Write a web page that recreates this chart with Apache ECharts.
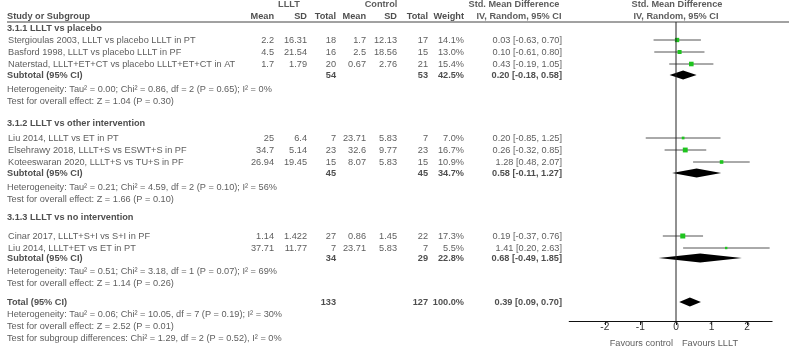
<!DOCTYPE html>
<html>
<head>
<meta charset="utf-8">
<script src="https://cdn.jsdelivr.net/npm/echarts@6/dist/echarts.min.js"></script>
<style>
  html, body { margin: 0; padding: 0; background: #fff; }
  #chart { width: 789px; height: 352px; }
</style>
</head>
<body>
<div id="chart"></div>
<script>
// ---- data ----
const studies = [
  'Stergioulas 2003, LLLT vs placebo LLLT in PT',
  'Basford 1998, LLLT vs placebo LLLT in PF',
  'Naterstad, LLLT+ET+CT vs placebo LLLT+ET+CT in AT',
  'Liu 2014, LLLT vs ET in PT',
  'Elsehrawy 2018, LLLT+S vs ESWT+S in PF',
  'Koteeswaran 2020, LLLT+S vs TU+S in PF',
  'Cinar 2017, LLLT+S+I vs S+I in PF',
  'Liu 2014, LLLT+ET vs ET in PT'
]
const meanE = ['2.2', '4.5', '1.7', '25', '34.7', '26.94', '1.14', '37.71']
const sdE = ['16.31', '21.54', '1.79', '6.4', '5.14', '19.45', '1.422', '11.77']
const nE = [18, 16, 20, 7, 23, 15, 27, 7]
const meanC = ['1.7', '2.5', '0.67', '23.71', '32.6', '8.07', '0.86', '23.71']
const sdC = ['12.13', '18.56', '2.76', '5.83', '9.77', '5.83', '1.45', '5.83']
const nC = [17, 15, 21, 7, 23, 15, 22, 7]
const weight = [14.1, 13.0, 15.4, 7.0, 16.7, 10.9, 17.3, 5.5]
const smd = [0.03, 0.10, 0.43, 0.20, 0.26, 1.28, 0.19, 1.41]
const ciLo = [-0.63, -0.61, -0.19, -0.85, -0.32, 0.48, -0.37, 0.20]
const ciHi = [0.70, 0.80, 1.05, 1.25, 0.85, 2.07, 0.76, 2.63]

const groups = ['3.1.1 LLLT vs placebo', '3.1.2 LLLT vs other intervention', '3.1.3 LLLT vs no intervention']
const subNE = [54, 45, 34]
const subNC = [53, 45, 29]
const subWeight = [42.5, 34.7, 22.8]
const subSmd = [0.20, 0.58, 0.68]
const subLo = [-0.18, -0.11, -0.49]
const subHi = [0.58, 1.27, 1.85]
const subHet = [
  'Heterogeneity: Tau² = 0.00; Chi² = 0.86, df = 2 (P = 0.65); I² = 0%',
  'Heterogeneity: Tau² = 0.21; Chi² = 4.59, df = 2 (P = 0.10); I² = 56%',
  'Heterogeneity: Tau² = 0.51; Chi² = 3.18, df = 1 (P = 0.07); I² = 69%'
]
const subTest = [
  'Test for overall effect: Z = 1.04 (P = 0.30)',
  'Test for overall effect: Z = 1.66 (P = 0.10)',
  'Test for overall effect: Z = 1.14 (P = 0.26)'
]
const totNE = 133
const totNC = 127
const totWeight = 100.0
const totSmd = 0.39
const totLo = 0.09
const totHi = 0.70
const totNotes = [
  'Heterogeneity: Tau² = 0.06; Chi² = 10.05, df = 7 (P = 0.19); I² = 30%',
  'Test for overall effect: Z = 2.52 (P = 0.01)',
  'Test for subgroup differences: Chi² = 1.29, df = 2 (P = 0.52), I² = 0%'
]
const tickValues = [-2, -1, 0, 1, 2]

// ---- layout (pixel rows / columns) ----
const studyY = [40, 52, 64, 138, 150, 162, 236, 248]
const groupY = [28, 123, 217]
const subY = [75, 173, 258]
const hetY = [89, 187, 271]
const testY = [101, 199, 283]
const totY = 302
const totNoteY = [314, 326, 338]
const colX = { mE: 274, sE: 307, nE: 336, mC: 366, sC: 397, nC: 428, w: 464, ci: 562 }
const zeroTop = 22
const axisY = 321

const txt = '#333'

// the reference text is narrow (Arial Narrow like); use the narrow face if it is there
let ctx = document.createElement('canvas').getContext('2d')
ctx.font = '11px "Liberation Sans Narrow", monospace'
let wNarrow = ctx.measureText('Heterogeneity LLLT').width
ctx.font = '11px monospace'
let wMono = ctx.measureText('Heterogeneity LLLT').width
let hasNarrow = Math.abs(wNarrow - wMono) > 0.5
const font = hasNarrow ? '"Liberation Sans Narrow", Arial, sans-serif' : '"Liberation Sans", Arial, sans-serif'
const fsize = hasNarrow ? 11 : 9.2

let fmtCI = (m, l, h) => m.toFixed(2) + ' [' + l.toFixed(2) + ', ' + h.toFixed(2) + ']'

// text helper: items = [[x, y, text]]
function textSeries(items, align, bold, color) {
  let pos = align == 'left' ? 'right' : (align == 'right' ? 'left' : 'inside')
  return {
    type: 'scatter', xAxisIndex: 0, yAxisIndex: 0,
    symbolSize: 0, silent: true, animation: false,
    data: items,
    label: {
      show: true, position: pos, distance: 0, align: align, verticalAlign: 'middle',
      fontFamily: font, fontSize: fsize, fontWeight: bold ? 'bold' : 'normal',
      color: color || txt,
      formatter: p => p.data[2]
    }
  }
}

let leftPlain = [], leftBold = [], rightPlain = [], rightBold = [], centerBold = []

// headers
centerBold.push([289, 4, 'LLLT'], [381, 4, 'Control'], [514, 4, 'Std. Mean Difference'], [519, 16, 'IV, Random, 95% CI'],
  [677, 4, 'Std. Mean Difference'], [676, 16, 'IV, Random, 95% CI'])
leftBold.push([7, 16, 'Study or Subgroup'])
rightBold.push([colX.mE, 16, 'Mean'], [colX.sE, 16, 'SD'], [colX.nE, 16, 'Total'],
  [colX.mC, 16, 'Mean'], [colX.sC, 16, 'SD'], [colX.nC, 16, 'Total'], [colX.w, 16, 'Weight'])

studies.forEach((s, i) => {
  let y = studyY[i]
  leftPlain.push([8, y, s])
  rightPlain.push([colX.mE, y, meanE[i]], [colX.sE, y, sdE[i]], [colX.nE, y, String(nE[i])],
    [colX.mC, y, meanC[i]], [colX.sC, y, sdC[i]], [colX.nC, y, String(nC[i])],
    [colX.w, y, weight[i].toFixed(1) + '%'], [colX.ci, y, fmtCI(smd[i], ciLo[i], ciHi[i])])
})
groups.forEach((g, i) => {
  leftBold.push([7, groupY[i], g], [7, subY[i], 'Subtotal (95% CI)'])
  leftPlain.push([7, hetY[i], subHet[i]], [7, testY[i], subTest[i]])
  rightBold.push([colX.nE, subY[i], String(subNE[i])], [colX.nC, subY[i], String(subNC[i])],
    [colX.w, subY[i], subWeight[i].toFixed(1) + '%'], [colX.ci, subY[i], fmtCI(subSmd[i], subLo[i], subHi[i])])
})
leftBold.push([7, totY, 'Total (95% CI)'])
rightBold.push([colX.nE, totY, String(totNE)], [colX.nC, totY, String(totNC)],
  [colX.w, totY, totWeight.toFixed(1) + '%'], [colX.ci, totY, fmtCI(totSmd, totLo, totHi)])
totNotes.forEach((t, i) => leftPlain.push([7, totNoteY[i], t]))

// forest data
let studyMarks = smd.map((m, i) => [m, ciLo[i], ciHi[i], studyY[i], weight[i]])
let diamonds = subSmd.map((m, i) => [m, subLo[i], subHi[i], subY[i]])
diamonds.push([totSmd, totLo, totHi, totY])

let chart = echarts.init(document.getElementById('chart'))
let option = {
  animation: false,
  grid: [
    { left: 0, top: 0, width: 789, height: 352 },
    { left: 676 - 3 * 35.6, top: 0, width: 5.7 * 35.6, height: axisY }
  ],
  xAxis: [
    { gridIndex: 0, type: 'value', min: 0, max: 789, show: false },
    {
      gridIndex: 1, type: 'value', min: -3, max: 2.7, position: 'bottom',
      splitLine: { show: false },
      axisLine: { show: true, onZero: false, lineStyle: { color: '#111', width: 1 } },
      axisTick: { show: true, length: 4, customValues: tickValues, lineStyle: { color: '#111' } },
      axisLabel: { customValues: tickValues, fontFamily: font, fontSize: fsize + 1, color: txt, margin: 1 }
    }
  ],
  yAxis: [
    { gridIndex: 0, type: 'value', min: 0, max: 352, inverse: true, show: false },
    { gridIndex: 1, type: 'value', min: 0, max: axisY, inverse: true, show: false }
  ],
  series: [
    // header rule
    {
      type: 'line', xAxisIndex: 0, yAxisIndex: 0, symbol: 'none', silent: true,
      data: [[7, zeroTop], [789, zeroTop]], lineStyle: { color: '#444', width: 1 }
    },
    // line of no effect
    {
      type: 'line', xAxisIndex: 1, yAxisIndex: 1, symbol: 'none', silent: true,
      data: [[0, zeroTop], [0, axisY]], lineStyle: { color: '#222', width: 1 }
    },
    // study CIs and weighted squares
    {
      type: 'custom', xAxisIndex: 1, yAxisIndex: 1, silent: true,
      data: studyMarks,
      renderItem: (params, api) => {
        let c = api.coord([api.value(0), api.value(3)])
        let a = api.coord([api.value(1), api.value(3)])
        let b = api.coord([api.value(2), api.value(3)])
        let s = 1.2 + api.value(4) * 0.22
        return {
          type: 'group', children: [
            { type: 'line', shape: { x1: a[0], y1: a[1], x2: b[0], y2: b[1] }, style: { stroke: '#555', lineWidth: 1 } },
            { type: 'rect', shape: { x: c[0] - s / 2, y: c[1] - s / 2, width: s, height: s }, style: { fill: '#1ec41e' } }
          ]
        }
      }
    },
    // pooled diamonds
    {
      type: 'custom', xAxisIndex: 1, yAxisIndex: 1, silent: true,
      data: diamonds,
      renderItem: (params, api) => {
        let c = api.coord([api.value(0), api.value(3)])
        let a = api.coord([api.value(1), api.value(3)])
        let b = api.coord([api.value(2), api.value(3)])
        let h = 4.5
        return {
          type: 'polygon',
          shape: { points: [[a[0], c[1]], [c[0], c[1] - h], [b[0], c[1]], [c[0], c[1] + h]] },
          style: { fill: '#000' }
        }
      }
    },
    textSeries(leftPlain, 'left', false),
    textSeries(leftBold, 'left', true, '#222'),
    textSeries(rightPlain, 'right', false),
    textSeries(rightBold, 'right', true, '#222'),
    textSeries(centerBold, 'center', true, '#333'),
    textSeries([[673, 343, 'Favours control']], 'right', false),
    textSeries([[682, 343, 'Favours LLLT']], 'left', false)
  ]
}
chart.setOption(option)
</script>
</body>
</html>
